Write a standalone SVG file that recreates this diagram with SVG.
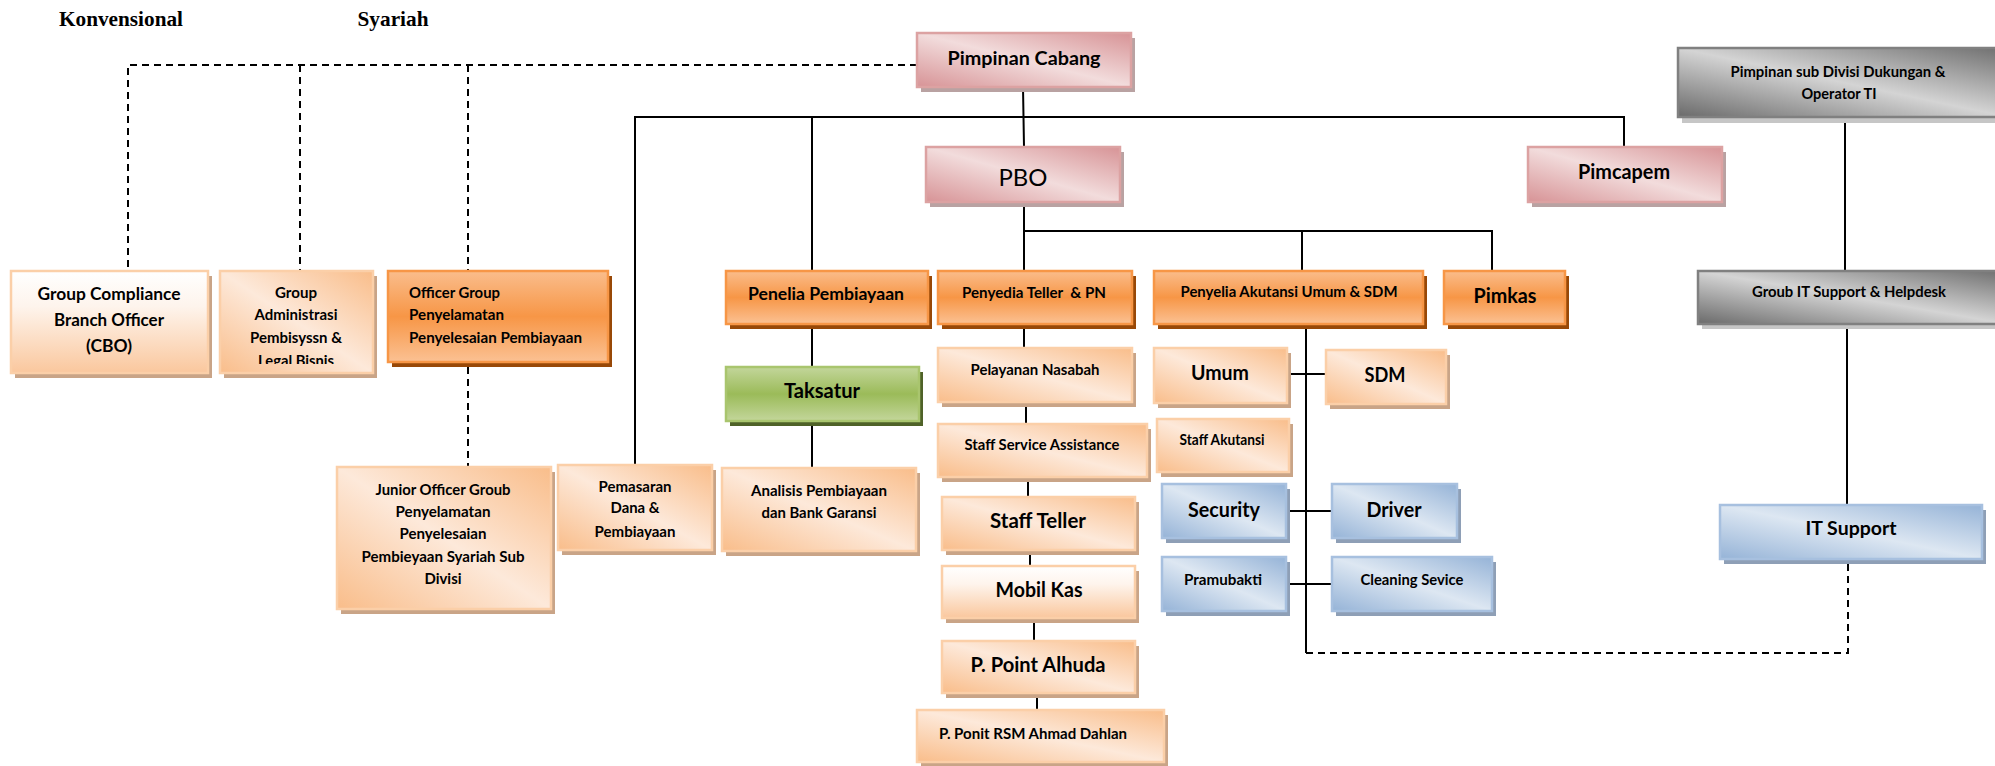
<svg xmlns="http://www.w3.org/2000/svg" width="1995" height="766" viewBox="0 0 1995 766">
<style>
.t{font-family:Lato,'Open Sans','Liberation Sans',sans-serif;font-weight:bold;fill:#000;text-anchor:middle}
.l{text-anchor:start}
.n{font-weight:normal}
.h{font-family:'Liberation Serif','Times New Roman',serif;font-weight:bold;font-size:21px;fill:#000;text-anchor:middle}
.ln{stroke:#000;stroke-width:2;fill:none}
.dl{stroke:#000;stroke-width:2;stroke-dasharray:7 5;fill:none}
.sO{fill:#984807}.sP{fill:#c9a487}.sK{fill:#b9a2a2}.sB{fill:#8e9fb6}.sG{fill:#4f6228}.sY{fill:#c6c6c6}
.bO{fill:url(#gO);stroke:#f79646;stroke-width:2.5}
.bP{fill:url(#gP);stroke:#fbcfa8;stroke-width:2.5}
.bW{fill:url(#gW);stroke:#fbcfa8;stroke-width:2.5}
.bK{fill:url(#gK);stroke:#dca2a2;stroke-width:2.5}
.bB{fill:url(#gB);stroke:#a7c0df;stroke-width:2.5}
.bG{fill:url(#gG);stroke:#a9c56e;stroke-width:2.5}
.bY{fill:url(#gY);stroke:#808080;stroke-width:2.5}
</style>
<defs>
<linearGradient id="gO" x1="0" y1="0" x2="0" y2="1"><stop offset="0" stop-color="#fabd8c"/><stop offset="0.5" stop-color="#f79646"/><stop offset="1" stop-color="#fbc193"/></linearGradient>
<linearGradient id="gP" x1="0" y1="1" x2="1" y2="0"><stop offset="0" stop-color="#f9bd8a"/><stop offset="0.5" stop-color="#fde9da"/><stop offset="1" stop-color="#f9bd8a"/></linearGradient>
<linearGradient id="gW" x1="0" y1="0" x2="0" y2="1"><stop offset="0" stop-color="#ffffff"/><stop offset="0.35" stop-color="#fef4ec"/><stop offset="1" stop-color="#fac79d"/></linearGradient>
<linearGradient id="gK" x1="0" y1="1" x2="1" y2="0"><stop offset="0" stop-color="#d79396"/><stop offset="0.5" stop-color="#f2dcdc"/><stop offset="1" stop-color="#d79396"/></linearGradient>
<linearGradient id="gB" x1="0" y1="1" x2="1" y2="0"><stop offset="0" stop-color="#95b3d7"/><stop offset="0.5" stop-color="#dde7f2"/><stop offset="1" stop-color="#95b3d7"/></linearGradient>
<linearGradient id="gG" x1="0" y1="0" x2="0" y2="1"><stop offset="0" stop-color="#c3d69b"/><stop offset="0.5" stop-color="#9bbb59"/><stop offset="1" stop-color="#c3d69b"/></linearGradient>
<linearGradient id="gY" x1="0" y1="1" x2="1" y2="0"><stop offset="0" stop-color="#6a6a6a"/><stop offset="0.5" stop-color="#d4d4d4"/><stop offset="1" stop-color="#6e6e6e"/></linearGradient>
<clipPath id="cAdmin"><rect x="220" y="271" width="153" height="93"/></clipPath>
</defs>

<text class="h" x="121" y="26" textLength="124" lengthAdjust="spacingAndGlyphs">Konvensional</text>
<text class="h" x="393" y="26" textLength="71" lengthAdjust="spacingAndGlyphs">Syariah</text>

<g id="connectors">
<path class="dl" d="M917 65 H128 V271 M300 65 V271 M468 65 V271 M468 367 V467"/>
<path class="dl" d="M1306 653 H1848 V559"/>
<path class="ln" d="M1023 87 L1024 147 M635 465 V117 H1624 V147 M812 117 V271"/>
<path class="ln" d="M1024 202 V271 M1024 231 H1492 V271 M1302 231 V271"/>
<path class="ln" d="M812 324 V367 M812 421 V468"/>
<path class="ln" d="M1024 324 V348 M1026 402 V424 M1028 477 V497 M1030 550 V566 M1034 618 V641 M1037 693 V710"/>
<path class="ln" d="M1306 324 V653 M1287 374 H1326 M1287 511 H1332 M1286 584 H1332"/>
<path class="ln" d="M1845 118 V271 M1847 324 V505"/>
</g>

<g id="n-cabang"><rect class="sK" x="921" y="38" width="214" height="54"/><rect class="bK" x="917" y="33" width="214" height="54"/>
<text class="t" x="1024" y="65" font-size="19" textLength="153" lengthAdjust="spacingAndGlyphs">Pimpinan Cabang</text></g>

<g id="n-pbo"><rect class="sK" x="930" y="152" width="194" height="55"/><rect class="bK" x="926" y="147" width="194" height="55"/>
<text class="t n" x="1023" y="186" font-size="23" textLength="49" lengthAdjust="spacingAndGlyphs">PBO</text></g>

<g id="n-pimcapem"><rect class="sK" x="1532" y="152" width="194" height="55"/><rect class="bK" x="1528" y="147" width="194" height="55"/>
<text class="t" x="1624" y="179" font-size="20" textLength="92" lengthAdjust="spacingAndGlyphs">Pimcapem</text></g>

<g id="n-subdivisi"><rect class="sY" x="1682" y="54" width="330" height="69"/><rect class="bY" x="1678" y="48" width="330" height="69"/>
<text class="t" x="1838" y="77" font-size="15" textLength="215" lengthAdjust="spacingAndGlyphs">Pimpinan sub Divisi Dukungan &amp;</text>
<text class="t" x="1839" y="99" font-size="15" textLength="75" lengthAdjust="spacingAndGlyphs">Operator TI</text></g>

<g id="n-groubit"><rect class="sY" x="1702" y="276" width="310" height="53"/><rect class="bY" x="1698" y="271" width="310" height="53"/>
<text class="t" x="1849" y="297" font-size="15.5" textLength="194" lengthAdjust="spacingAndGlyphs">Groub IT Support &amp; Helpdesk</text></g>

<g id="n-itsupport"><rect class="sB" x="1724" y="510" width="262" height="54"/><rect class="bB" x="1720" y="505" width="262" height="54"/>
<text class="t" x="1851" y="535" font-size="18" textLength="91" lengthAdjust="spacingAndGlyphs">IT Support</text></g>

<g id="n-cbo"><rect class="sP" x="15" y="276" width="197" height="102"/><rect class="bW" x="11" y="271" width="197" height="102"/>
<text class="t" x="109" y="300" font-size="16.5" textLength="143" lengthAdjust="spacingAndGlyphs">Group Compliance</text>
<text class="t" x="109" y="326" font-size="16.5" textLength="110" lengthAdjust="spacingAndGlyphs">Branch Officer</text>
<text class="t" x="109" y="352" font-size="16.5" textLength="46" lengthAdjust="spacingAndGlyphs">(CBO)</text></g>

<g id="n-admin"><rect class="sP" x="224" y="276" width="153" height="102"/><rect class="bP" x="220" y="271" width="153" height="102"/>
<g clip-path="url(#cAdmin)">
<text class="t" x="296" y="298" font-size="15" textLength="42" lengthAdjust="spacingAndGlyphs">Group</text>
<text class="t" x="296" y="320" font-size="15" textLength="83" lengthAdjust="spacingAndGlyphs">Administrasi</text>
<text class="t" x="296" y="343" font-size="15" textLength="92" lengthAdjust="spacingAndGlyphs">Pembisyssn &amp;</text>
<text class="t" x="296" y="366" font-size="15" textLength="76" lengthAdjust="spacingAndGlyphs">Legal Bisnis</text></g></g>

<g id="n-officer"><rect class="sO" x="392" y="276" width="220" height="91"/><rect class="bO" x="388" y="271" width="220" height="91"/>
<text class="t l" x="409" y="298" font-size="15.5" textLength="91" lengthAdjust="spacingAndGlyphs">Officer Group</text>
<text class="t l" x="409" y="320" font-size="15.5" textLength="95" lengthAdjust="spacingAndGlyphs">Penyelamatan</text>
<text class="t l" x="409" y="343" font-size="15.5" textLength="173" lengthAdjust="spacingAndGlyphs">Penyelesaian Pembiayaan</text></g>

<g id="n-junior"><rect class="sP" x="341" y="472" width="214" height="142"/><rect class="bP" x="337" y="467" width="214" height="142"/>
<text class="t" x="443" y="495" font-size="15" textLength="135" lengthAdjust="spacingAndGlyphs">Junior Officer Groub</text>
<text class="t" x="443" y="517" font-size="15" textLength="95" lengthAdjust="spacingAndGlyphs">Penyelamatan</text>
<text class="t" x="443" y="539" font-size="15" textLength="87" lengthAdjust="spacingAndGlyphs">Penyelesaian</text>
<text class="t" x="443" y="562" font-size="15" textLength="163" lengthAdjust="spacingAndGlyphs">Pembieyaan Syariah Sub</text>
<text class="t" x="443" y="584" font-size="15" textLength="37" lengthAdjust="spacingAndGlyphs">Divisi</text></g>

<g id="n-pemasaran"><rect class="sP" x="562" y="470" width="154" height="85"/><rect class="bP" x="558" y="465" width="154" height="85"/>
<text class="t" x="635" y="492" font-size="15" textLength="73" lengthAdjust="spacingAndGlyphs">Pemasaran</text>
<text class="t" x="635" y="513" font-size="15" textLength="49" lengthAdjust="spacingAndGlyphs">Dana &amp;</text>
<text class="t" x="635" y="537" font-size="15" textLength="81" lengthAdjust="spacingAndGlyphs">Pembiayaan</text></g>

<g id="n-penelia"><rect class="sO" x="730" y="276" width="202" height="53"/><rect class="bO" x="726" y="271" width="202" height="53"/>
<text class="t" x="826" y="300" font-size="16.5" textLength="156" lengthAdjust="spacingAndGlyphs">Penelia Pembiayaan</text></g>

<g id="n-taksatur"><rect class="sG" x="730" y="372" width="193" height="54"/><rect class="bG" x="726" y="367" width="193" height="54"/>
<text class="t" x="822" y="398" font-size="20" textLength="76" lengthAdjust="spacingAndGlyphs">Taksatur</text></g>

<g id="n-analisis"><rect class="sP" x="726" y="473" width="194" height="83"/><rect class="bP" x="722" y="468" width="194" height="83"/>
<text class="t" x="819" y="496" font-size="15" textLength="136" lengthAdjust="spacingAndGlyphs">Analisis Pembiayaan</text>
<text class="t" x="819" y="518" font-size="15" textLength="115" lengthAdjust="spacingAndGlyphs">dan Bank Garansi</text></g>

<g id="n-teller"><rect class="sO" x="942" y="276" width="194" height="53"/><rect class="bO" x="938" y="271" width="194" height="53"/>
<text class="t" x="1034" y="298" font-size="15.5" textLength="144" lengthAdjust="spacingAndGlyphs" xml:space="preserve">Penyedia Teller  &amp; PN</text></g>

<g id="n-pelayanan"><rect class="sP" x="942" y="353" width="194" height="54"/><rect class="bP" x="938" y="348" width="194" height="54"/>
<text class="t" x="1035" y="375" font-size="15.5" textLength="129" lengthAdjust="spacingAndGlyphs">Pelayanan Nasabah</text></g>

<g id="n-ssa"><rect class="sP" x="942" y="429" width="209" height="53"/><rect class="bP" x="938" y="424" width="209" height="53"/>
<text class="t" x="1042" y="450" font-size="15" textLength="155" lengthAdjust="spacingAndGlyphs">Staff Service Assistance</text></g>

<g id="n-staffteller"><rect class="sP" x="946" y="502" width="193" height="53"/><rect class="bP" x="942" y="497" width="193" height="53"/>
<text class="t" x="1038" y="528" font-size="20" textLength="96" lengthAdjust="spacingAndGlyphs">Staff Teller</text></g>

<g id="n-mobilkas"><rect class="sP" x="946" y="571" width="193" height="52"/><rect class="bW" x="942" y="566" width="193" height="52"/>
<text class="t" x="1039" y="597" font-size="20" textLength="87" lengthAdjust="spacingAndGlyphs">Mobil Kas</text></g>

<g id="n-alhuda"><rect class="sP" x="946" y="646" width="193" height="52"/><rect class="bP" x="942" y="641" width="193" height="52"/>
<text class="t" x="1038" y="672" font-size="20" textLength="135" lengthAdjust="spacingAndGlyphs">P. Point Alhuda</text></g>

<g id="n-rsm"><rect class="sP" x="921" y="715" width="247" height="52"/><rect class="bP" x="917" y="710" width="247" height="52"/>
<text class="t" x="1033" y="739" font-size="15.5" textLength="188" lengthAdjust="spacingAndGlyphs">P. Ponit RSM Ahmad Dahlan</text></g>

<g id="n-akutansi"><rect class="sO" x="1158" y="276" width="269" height="53"/><rect class="bO" x="1154" y="271" width="269" height="53"/>
<text class="t" x="1289" y="297" font-size="16" textLength="217" lengthAdjust="spacingAndGlyphs">Penyelia Akutansi Umum &amp; SDM</text></g>

<g id="n-pimkas"><rect class="sO" x="1448" y="276" width="121" height="53"/><rect class="bO" x="1444" y="271" width="121" height="53"/>
<text class="t" x="1505" y="303" font-size="20" textLength="63" lengthAdjust="spacingAndGlyphs">Pimkas</text></g>

<g id="n-umum"><rect class="sP" x="1158" y="353" width="133" height="55"/><rect class="bP" x="1154" y="348" width="133" height="55"/>
<text class="t" x="1220" y="380" font-size="20" textLength="58" lengthAdjust="spacingAndGlyphs">Umum</text></g>

<g id="n-sdm"><rect class="sP" x="1330" y="355" width="120" height="54"/><rect class="bP" x="1326" y="350" width="120" height="54"/>
<text class="t" x="1385" y="382" font-size="20" textLength="41" lengthAdjust="spacingAndGlyphs">SDM</text></g>

<g id="n-staffakutansi"><rect class="sP" x="1161" y="424" width="132" height="53"/><rect class="bP" x="1157" y="419" width="132" height="53"/>
<text class="t" x="1222" y="445" font-size="14.5" textLength="85" lengthAdjust="spacingAndGlyphs">Staff Akutansi</text></g>

<g id="n-security"><rect class="sB" x="1166" y="489" width="124" height="54"/><rect class="bB" x="1162" y="484" width="124" height="54"/>
<text class="t" x="1224" y="517" font-size="20" textLength="72" lengthAdjust="spacingAndGlyphs">Security</text></g>

<g id="n-driver"><rect class="sB" x="1336" y="489" width="125" height="54"/><rect class="bB" x="1332" y="484" width="125" height="54"/>
<text class="t" x="1394" y="517" font-size="20" textLength="55" lengthAdjust="spacingAndGlyphs">Driver</text></g>

<g id="n-pramubakti"><rect class="sB" x="1166" y="562" width="124" height="54"/><rect class="bB" x="1162" y="557" width="124" height="54"/>
<text class="t" x="1223" y="585" font-size="14.5" textLength="78" lengthAdjust="spacingAndGlyphs">Pramubakti</text></g>

<g id="n-cleaning"><rect class="sB" x="1336" y="562" width="160" height="54"/><rect class="bB" x="1332" y="557" width="160" height="54"/>
<text class="t" x="1412" y="585" font-size="14.5" textLength="103" lengthAdjust="spacingAndGlyphs">Cleaning Sevice</text></g>
</svg>
